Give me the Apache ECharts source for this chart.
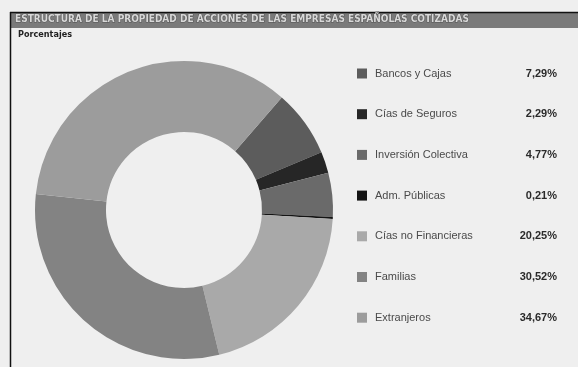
<!DOCTYPE html>
<html><head><meta charset="utf-8">
<script src="https://cdn.jsdelivr.net/npm/echarts@6/dist/echarts.min.js"></script>
<style>html,body{margin:0;padding:0;background:#efefef}#c{width:578px;height:367px}</style>
</head><body><div id="c"></div>
<script>
const categories = ['Bancos y Cajas','Cías de Seguros','Inversión Colectiva','Adm. Públicas','Cías no Financieras','Familias','Extranjeros'];
const values = [7.29, 2.29, 4.77, 0.21, 20.25, 30.52, 34.67];
const valueLabels = ['7,29%','2,29%','4,77%','0,21%','20,25%','30,52%','34,67%'];
const colors = ['#5c5c5c','#262626','#6a6a6a','#141414','#a9a9a9','#838383','#9c9c9c'];
const titleText = 'ESTRUCTURA DE LA PROPIEDAD DE ACCIONES DE LAS EMPRESAS ESPAÑOLAS COTIZADAS';
const subtitleText = 'Porcentajes';

const chart = echarts.init(document.getElementById('c'));
chart.setOption({
  backgroundColor: '#efefef',
  animation: false,
  color: colors,
  graphic: [
    {type:'rect', shape:{x:11,y:13,width:567,height:15}, style:{fill:'#7a7a7a'}},
    {type:'line', shape:{x1:10,y1:12.5,x2:578,y2:12.5}, style:{stroke:'#111',lineWidth:1.5}},
    {type:'line', shape:{x1:10.5,y1:12,x2:10.5,y2:367}, style:{stroke:'#111',lineWidth:1.5}}
  ],
  title: [
    {text: titleText, left: 15, top: 14.5, textStyle:{fontFamily:'DejaVu Sans Condensed', fontWeight:'bold', fontSize:10, color:'#d8d8d8', textBorderColor:'#555', textBorderWidth:1}, padding:0},
    {text: subtitleText, left: 18, top: 30, textStyle:{fontFamily:'DejaVu Sans Condensed', fontWeight:'bold', fontSize:9, color:'#222'}, padding:0}
  ],
  legend: {
    orient: 'vertical',
    left: 352, top: 63,
    itemWidth: 10, itemHeight: 10, itemGap: 29.7,
    icon: 'rect',
    data: categories,
    formatter: function(name){
      const i = categories.indexOf(name);
      return '{n|' + name + '}{v|' + valueLabels[i] + '}';
    },
    textStyle: {
      rich: {
        n: {fontFamily:'Liberation Sans', fontSize:11, color:'#4a4a4a', width:136, padding:[0,0,0,3]},
        v: {fontFamily:'Liberation Sans', fontSize:11, fontWeight:'bold', color:'#2a2a2a', width:46, align:'right'}
      }
    }
  },
  series: [{
    type: 'pie',
    center: [184, 210],
    radius: [78, 149],
    startAngle: 49,
    clockwise: true,
    label: {show:false},
    labelLine: {show:false},
    itemStyle: {borderWidth:0},
    data: categories.map((c,i)=>({name:c, value:values[i]}))
  }]
});
</script></body></html>
